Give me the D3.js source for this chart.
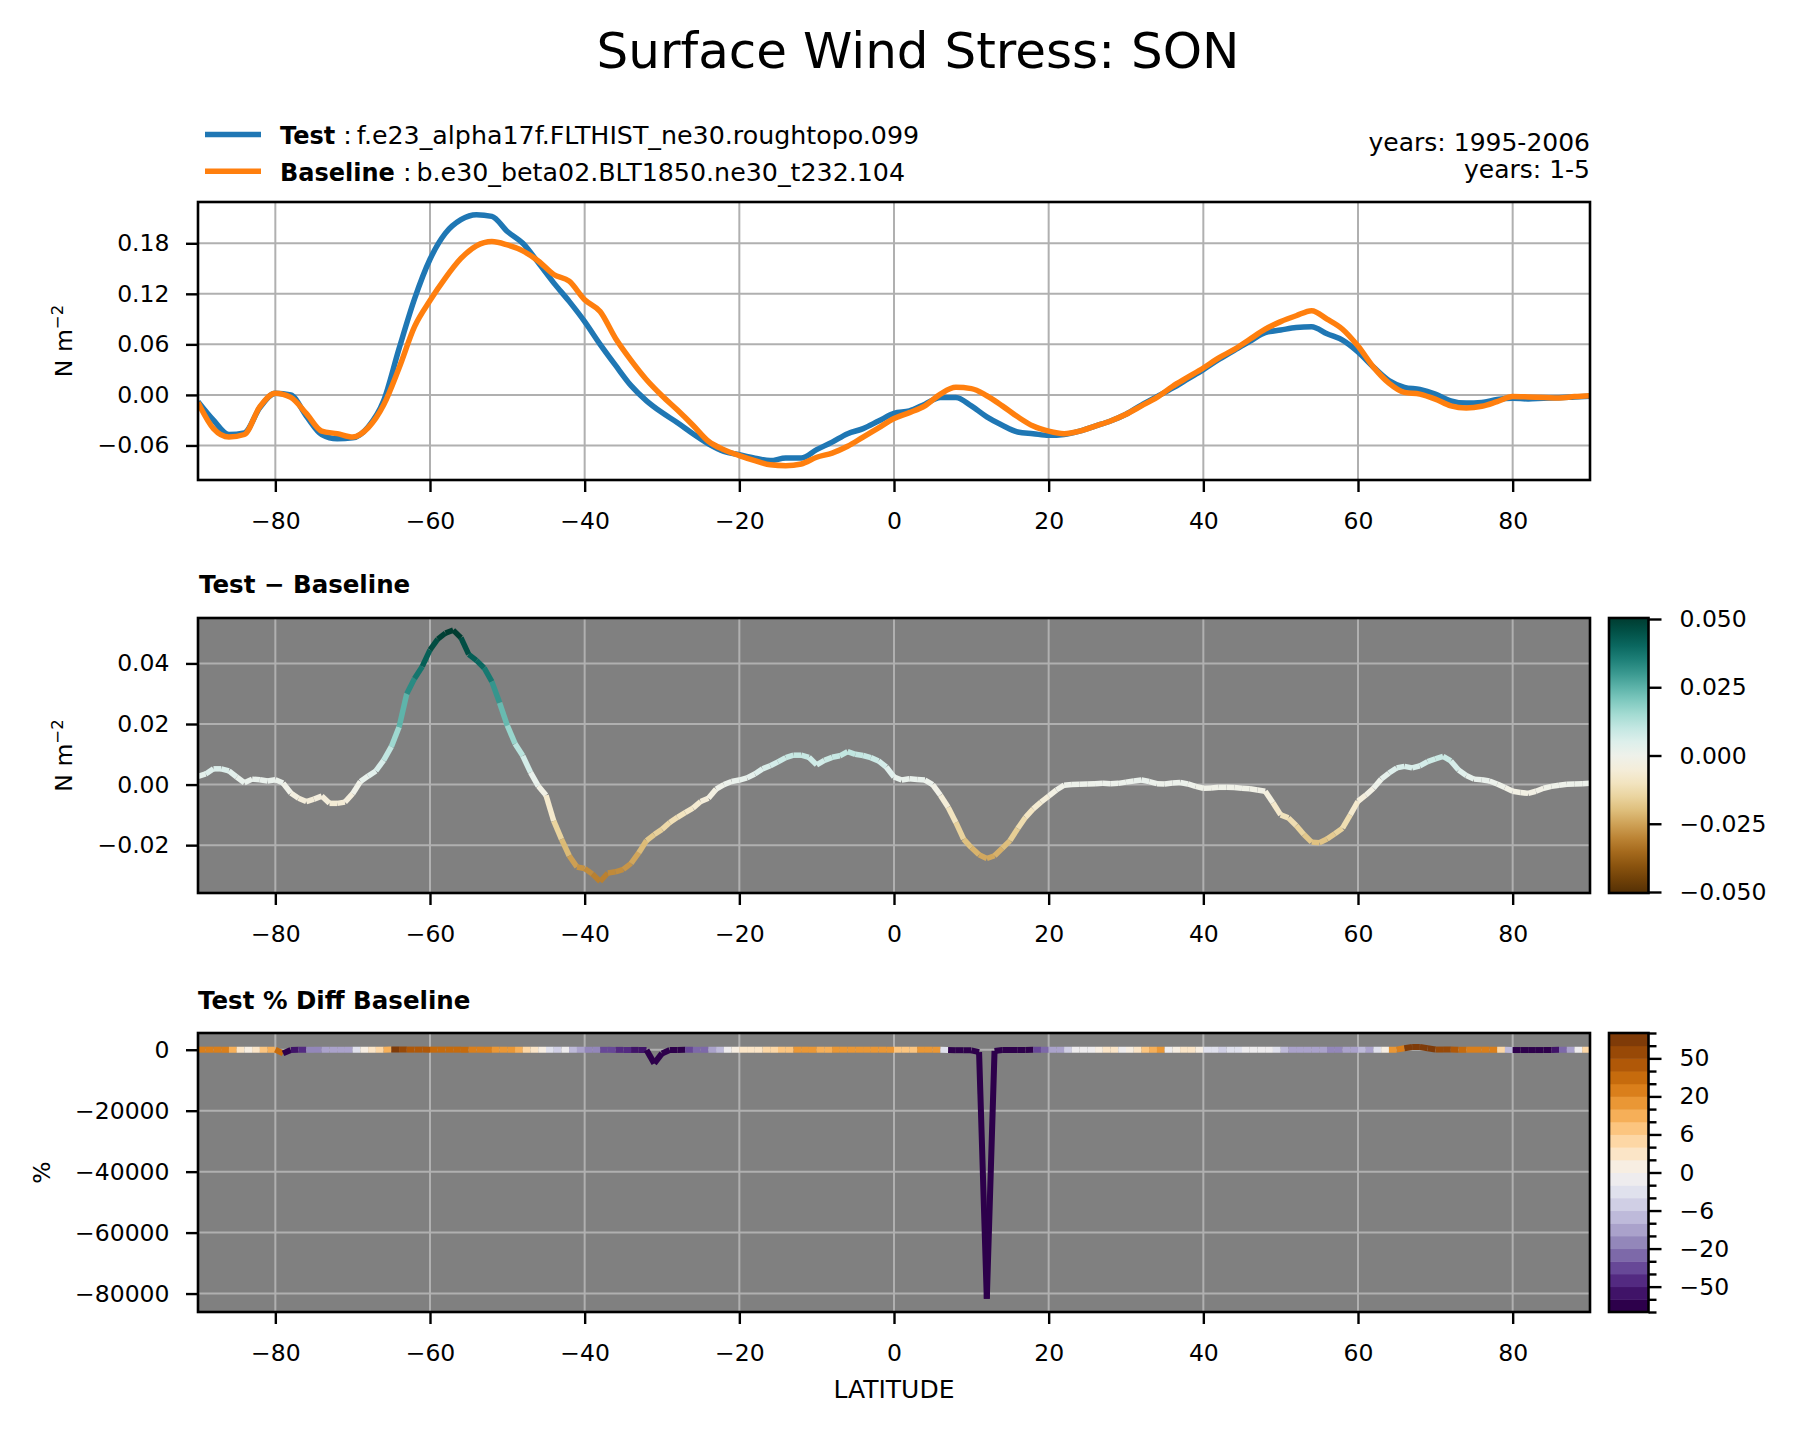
<!DOCTYPE html>
<html>
<head>
<meta charset="utf-8">
<script src="https://cdn.jsdelivr.net/npm/d3@7"></script>
<style>
  body { margin: 0; background: #fff; }
  svg text { font-family: "DejaVu Sans", sans-serif; fill: #000; }
</style>
</head>
<body>
<div id="my_dataviz"></div>
<script>
// ---- data ----
const latTop = d3.range(-90, 91, 2); // 2 degree grid for the two means

const testVals = [
  -0.008, -0.030, -0.047, -0.045, -0.015, 0.002, 0.000, -0.025, -0.047, -0.052,
  -0.051, -0.038, -0.007, 0.055, 0.114, 0.161, 0.192, 0.208, 0.214, 0.212,
  0.194, 0.180, 0.157, 0.133, 0.111, 0.087, 0.060, 0.035, 0.011, -0.007,
  -0.021, -0.033, -0.046, -0.058, -0.067, -0.071, -0.075, -0.078, -0.075, -0.075,
  -0.065, -0.056, -0.046, -0.040, -0.031, -0.022, -0.019, -0.011, -0.003, -0.003,
  -0.013, -0.026, -0.036, -0.044, -0.046, -0.048, -0.047, -0.043, -0.037, -0.031,
  -0.023, -0.012, -0.002, 0.008, 0.019, 0.030, 0.042, 0.053, 0.0635, 0.074,
  0.077, 0.080, 0.081, 0.0726, 0.065, 0.051, 0.033, 0.017, 0.009, 0.0065,
  0.001, -0.007, -0.0097, -0.009, -0.0055, -0.004, -0.0048, -0.004, -0.0035, -0.0025,
  -0.0016
];

const baseVals = [
  -0.009, -0.040, -0.050, -0.047, -0.014, 0.002, -0.003, -0.022, -0.043, -0.046,
  -0.050, -0.039, -0.012, 0.032, 0.081, 0.112, 0.139, 0.162, 0.177, 0.182,
  0.178, 0.171, 0.159, 0.143, 0.135, 0.113, 0.099, 0.067, 0.041, 0.018,
  -0.001, -0.018, -0.036, -0.055, -0.065, -0.072, -0.078, -0.083, -0.084, -0.082,
  -0.074, -0.069, -0.061, -0.050, -0.039, -0.028, -0.021, -0.013, 0.001, 0.009,
  0.0075, -0.001, -0.013, -0.026, -0.037, -0.043, -0.046, -0.043, -0.037, -0.031,
  -0.023, -0.013, -0.003, 0.010, 0.021, 0.032, 0.044, 0.054, 0.066, 0.078,
  0.087, 0.094, 0.100, 0.090, 0.078, 0.058, 0.033, 0.014, 0.003, 0.001,
  -0.005, -0.013, -0.0155, -0.0135, -0.008, -0.002, -0.0024, -0.003, -0.0036, -0.002,
  -0.001
];

const latDiff = d3.range(-90, 91, 1); // 1 degree grid for the differences

const diffVals = [
  0.0027, 0.0035, 0.0052, 0.0052, 0.0045, 0.0025, 0.0006, 0.0018, 0.0016, 0.0012,
  0.0016, 0.0005, -0.0028, -0.0045, -0.0056, -0.0048, -0.0038, -0.0062, -0.0062, -0.0058,
  -0.0030, 0.0010, 0.0028, 0.0045, 0.0080, 0.0125, 0.0190, 0.0300, 0.0350, 0.0390,
  0.0445, 0.0480, 0.0500, 0.0510, 0.0485, 0.0430, 0.0410, 0.0385, 0.0340, 0.0270,
  0.0195, 0.0135, 0.0095, 0.0040, -0.0005, -0.0035, -0.0120, -0.0180, -0.0235, -0.0272,
  -0.0277, -0.0295, -0.0320, -0.0292, -0.0288, -0.0280, -0.0260, -0.0225, -0.0185, -0.0165,
  -0.0148, -0.0125, -0.0108, -0.0093, -0.0078, -0.0056, -0.0045, -0.0015, 0.0000, 0.0010,
  0.0015, 0.0022, 0.0035, 0.0052, 0.0062, 0.0075, 0.0089, 0.0097, 0.0097, 0.0090,
  0.0065, 0.0080, 0.0090, 0.0095, 0.0109, 0.0100, 0.0096, 0.0089, 0.0078, 0.0058,
  0.0025, 0.0015, 0.0019, 0.0017, 0.0015, 0.0000, -0.0035, -0.0075, -0.0125, -0.0180,
  -0.0208, -0.0232, -0.0244, -0.0235, -0.0210, -0.0185, -0.0145, -0.0108, -0.0080, -0.0058,
  -0.0038, -0.0018, -0.0002, 0.0000, 0.0001, 0.0002, 0.0003, 0.0004, 0.0003, 0.0004,
  0.0008, 0.0012, 0.0015, 0.0010, 0.0003, 0.0002, 0.0005, 0.0007, 0.0002, -0.0006,
  -0.0012, -0.0011, -0.0009, -0.0009, -0.0010, -0.0012, -0.0014, -0.0018, -0.0022, -0.0060,
  -0.0100, -0.0110, -0.0135, -0.0165, -0.0190, -0.0192, -0.0180, -0.0162, -0.0144, -0.0100,
  -0.0055, -0.0035, -0.0012, 0.0018, 0.0038, 0.0055, 0.0060, 0.0055, 0.0062, 0.0076,
  0.0085, 0.0093, 0.0078, 0.0048, 0.0030, 0.0018, 0.0016, 0.0012, 0.0002, -0.0010,
  -0.0022, -0.0026, -0.0029, -0.0022, -0.0012, -0.0006, -0.0002, 0.0001, 0.0002, 0.0003,
  0.0004
];

const pctVals = [
  22, 22, 22, 22, 9, 3, 1, 3, 7, 9,
  35, -1200, -55, -45, -20, -20, -9, -9, -9, -9,
  -3, 1, 3, 5, 9, 80, 60, 45, 45, 45,
  35, 35, 35, 35, 35, 25, 25, 25, 15, 15,
  15, 9, 5, 3, 1, -3, -5, -1, -7, -9,
  -15, -15, -35, -35, -50, -50, -60, -60, -80, -4500,
  -1200, -80, -80, -35, -25, -25, -9, -7, -2, 1,
  3, 3, 3, 5, 5, 7, 7, 15, 15, 15,
  9, 9, 15, 15, 15, 15, 15, 15, 15, 15,
  6, 6, 6, 15, 15, 15, -3, -100, -150, -150,
  -200, -800, -81700, -400, -120, -100, -90, -80, -35, -22,
  -9, -9, -5, -1, -1, -1, 1, 2, 2, -1,
  1, 3, 7, 9, 15, -1, 1, 3, 3, 1,
  -3, -3, -5, -3, -3, -2, -2, -2, -2, -3,
  -7, -9, -9, -9, -9, -9, -15, -15, -9, -9,
  -7, -9, -3, 1, 15, 25, 500, 900, 900, 500,
  60, 60, 45, 35, 20, 20, 20, 20, 5, -7,
  -100, -100, -100, -100, -100, -60, -25, -9, -1, 5,
  1
];

const xTicks = [-80, -60, -40, -20, 0, 20, 40, 60, 80];
const topTicks = [-0.06, 0, 0.06, 0.12, 0.18];
const diffTicks = [-0.02, 0, 0.02, 0.04];
const pctTicks = [-80000, -60000, -40000, -20000, 0];
const diffCbTicks = [-0.05, -0.025, 0, 0.025, 0.05];
const pctLevels = [-100, -75, -50, -40, -30, -20, -10, -8, -6, -4, -2, 0, 2, 4, 6, 8, 10, 20, 30, 40, 50, 75, 100];
const pctCbLabels = [-50, -20, -6, 0, 6, 20, 50];

const legendItems = [
  { name: "Test", case: "f.e23_alpha17f.FLTHIST_ne30.roughtopo.099", years: "years: 1995-2006", color: "#1f77b4" },
  { name: "Baseline", case: "b.e30_beta02.BLT1850.ne30_t232.104", years: "years: 1-5", color: "#ff7f0e" }
];

// ---- layout ----
const W = 1799, H = 1433;
const axL = 198, axR = 1590;
const panels = {
  top: { y0: 202, y1: 480, ylim: [-0.101, 0.229] },
  mid: { y0: 618, y1: 893, ylim: [-0.0358, 0.055] },
  bot: { y0: 1033, y1: 1312, ylim: [-86050, 5490] }
};
const cbL = 1609, cbR = 1648.5;
const fs = 23.5;

const svg = d3.select("#my_dataviz")
  .append("svg")
  .attr("width", W)
  .attr("height", H)
  .style("display", "block");

const defs = svg.append("defs");

const x = d3.scaleLinear().domain([-90, 90]).range([axL, axR]);

// shared axis styling (matplotlib look)
function styleAxis(g) {
  g.select(".domain").remove();
  g.selectAll(".tick line").attr("stroke", "#000").attr("stroke-width", 2.4);
  g.selectAll(".tick text")
    .attr("font-size", fs)
    .attr("font-family", "DejaVu Sans")
    .attr("fill", "#000");
}

// draw one axes frame: background, grid, ticks; returns y scale and plot group
function drawPanel(key, yTicks, yFmt, bg) {
  const p = panels[key];
  const y = d3.scaleLinear().domain(p.ylim).range([p.y1, p.y0]);

  svg.append("rect")
    .attr("x", axL).attr("y", p.y0)
    .attr("width", axR - axL).attr("height", p.y1 - p.y0)
    .attr("fill", bg);

  // grid
  const grid = svg.append("g").attr("stroke", "#b0b0b0").attr("stroke-width", 2);
  grid.selectAll(".gx").data(xTicks).join("line")
    .attr("x1", d => x(d)).attr("x2", d => x(d))
    .attr("y1", p.y0).attr("y2", p.y1);
  grid.selectAll(".gy").data(yTicks).join("line")
    .attr("x1", axL).attr("x2", axR)
    .attr("y1", d => y(d)).attr("y2", d => y(d));

  svg.append("g")
    .attr("transform", `translate(0,${p.y1})`)
    .call(d3.axisBottom(x).tickValues(xTicks).tickFormat(d3.format("d"))
      .tickSize(12).tickPadding(20).tickSizeOuter(0))
    .call(styleAxis);

  svg.append("g")
    .attr("transform", `translate(${axL},0)`)
    .call(d3.axisLeft(y).tickValues(yTicks).tickFormat(yFmt)
      .tickSize(12).tickPadding(16.5).tickSizeOuter(0))
    .call(styleAxis);

  defs.append("clipPath").attr("id", "clip-" + key)
    .append("rect")
    .attr("x", axL).attr("y", p.y0)
    .attr("width", axR - axL).attr("height", p.y1 - p.y0);

  const plot = svg.append("g").attr("clip-path", `url(#clip-${key})`);
  return { y, plot, p };
}

function drawFrame(p) {
  svg.append("rect")
    .attr("x", axL).attr("y", p.y0)
    .attr("width", axR - axL).attr("height", p.y1 - p.y0)
    .attr("fill", "none").attr("stroke", "#000").attr("stroke-width", 2.6);
}

function yLabel(p, xPos, build) {
  const t = svg.append("text")
    .attr("transform", `translate(${xPos},${(p.y0 + p.y1) / 2}) rotate(-90)`)
    .attr("text-anchor", "middle")
    .attr("font-size", fs);
  build(t);
}

function nmLabel(t) {
  t.append("tspan").text("N m");
  t.append("tspan").attr("font-size", 16.5).attr("dy", -9).text("−2");
}

// ---- title ----
svg.append("text")
  .attr("x", 918).attr("y", 68)
  .attr("text-anchor", "middle")
  .attr("font-size", 50)
  .text("Surface Wind Stress: SON");

// ---- legend ----
legendItems.forEach((d, i) => {
  const ly = 134.5 + i * 36.8;
  svg.append("line")
    .attr("x1", 205).attr("x2", 261)
    .attr("y1", ly).attr("y2", ly)
    .attr("stroke", d.color).attr("stroke-width", 5.5);
  const t = svg.append("text")
    .attr("x", 280).attr("y", ly + 9.7)
    .attr("font-size", 25.3);
  t.append("tspan").attr("font-weight", "bold").attr("font-size", 24).text(d.name);
  t.append("tspan").text(" :\u2009" + d.case);

  svg.append("text")
    .attr("x", axR).attr("y", 150.5 + i * 27)
    .attr("text-anchor", "end")
    .attr("font-size", 25)
    .text(d.years);
});

// ---- panel 1: test and baseline ----
const meanAx = drawPanel("top", topTicks, d3.format(".2f"), "#fff");
const lineTop = d3.line()
  .x((d, i) => x(latTop[i]))
  .y(d => meanAx.y(d))
  .curve(d3.curveMonotoneX);

meanAx.plot.append("path")
  .datum(testVals)
  .attr("d", lineTop)
  .attr("fill", "none").attr("stroke", "#1f77b4")
  .attr("stroke-width", 5.5).attr("stroke-linejoin", "round");

meanAx.plot.append("path")
  .datum(baseVals)
  .attr("d", lineTop)
  .attr("fill", "none").attr("stroke", "#ff7f0e")
  .attr("stroke-width", 5.5).attr("stroke-linejoin", "round");

drawFrame(meanAx.p);
yLabel(meanAx.p, 72, nmLabel);

// ---- panel 2: test - baseline, coloured by value ----
const diffAx = drawPanel("mid", diffTicks, d3.format(".2f"), "#808080");
const diffColor = d3.scaleSequential(d3.interpolateBrBG).domain([-0.05, 0.05]).clamp(true);

const diffSegs = d3.pairs(diffVals.map((v, i) => [latDiff[i], v]));
diffAx.plot.selectAll(".seg")
  .data(diffSegs)
  .join("line")
  .attr("x1", d => x(d[0][0])).attr("y1", d => diffAx.y(d[0][1]))
  .attr("x2", d => x(d[1][0])).attr("y2", d => diffAx.y(d[1][1]))
  .attr("stroke", d => diffColor((d[0][1] + d[1][1]) / 2))
  .attr("stroke-width", 5.5)
  .attr("stroke-linecap", "butt");

drawFrame(diffAx.p);
yLabel(diffAx.p, 72, nmLabel);

svg.append("text")
  .attr("x", 199).attr("y", 593)
  .attr("font-size", 24.5).attr("font-weight", "bold")
  .text("Test − Baseline");

// colorbar for panel 2
const grad = defs.append("linearGradient")
  .attr("id", "brbg").attr("x1", 0).attr("x2", 0).attr("y1", 1).attr("y2", 0);
d3.range(0, 1.0001, 0.05).forEach(t => {
  grad.append("stop").attr("offset", t).attr("stop-color", d3.interpolateBrBG(t));
});
svg.append("rect")
  .attr("x", cbL).attr("y", diffAx.p.y0)
  .attr("width", cbR - cbL).attr("height", diffAx.p.y1 - diffAx.p.y0)
  .attr("fill", "url(#brbg)")
  .attr("stroke", "#000").attr("stroke-width", 2.6);

const cbY = d3.scaleLinear().domain([-0.05, 0.05]).range([diffAx.p.y1 - 1, diffAx.p.y0 + 1]);
svg.append("g")
  .attr("transform", `translate(${cbR},0)`)
  .call(d3.axisRight(cbY).tickValues(diffCbTicks).tickFormat(d3.format(".3f"))
    .tickSize(13).tickPadding(18).tickSizeOuter(0))
  .call(styleAxis);

// ---- panel 3: percent difference, binned colours ----
const pctAx = drawPanel("bot", pctTicks, d3.format("d"), "#808080");
const nBins = pctLevels.length - 1;
const binOf = v => Math.max(0, Math.min(nBins - 1, d3.bisectRight(pctLevels, v) - 1));
// purple for the lowest bin, brown for the highest
const binColor = i => d3.interpolatePuOr(i / (nBins - 1));

const pctSegs = d3.pairs(pctVals.map((v, i) => [latDiff[i], v]));
pctAx.plot.selectAll(".seg")
  .data(pctSegs)
  .join("line")
  .attr("x1", d => x(d[0][0])).attr("y1", d => pctAx.y(d[0][1]))
  .attr("x2", d => x(d[1][0])).attr("y2", d => pctAx.y(d[1][1]))
  .attr("stroke", d => binColor(binOf(d[0][1])))
  .attr("stroke-width", 6)
  .attr("stroke-linecap", "butt");

drawFrame(pctAx.p);
yLabel(pctAx.p, 49.5, t => t.text("%"));

svg.append("text")
  .attr("x", 198).attr("y", 1009)
  .attr("font-size", 24.5).attr("font-weight", "bold")
  .text("Test % Diff Baseline");

svg.append("text")
  .attr("x", (axL + axR) / 2).attr("y", 1398)
  .attr("text-anchor", "middle")
  .attr("font-size", 25)
  .text("LATITUDE");

// colorbar for panel 3
const cbIdx = d3.scaleLinear().domain([0, nBins]).range([pctAx.p.y1, pctAx.p.y0]);
svg.append("g").selectAll("rect")
  .data(d3.range(nBins))
  .join("rect")
  .attr("x", cbL).attr("width", cbR - cbL)
  .attr("y", i => cbIdx(i + 1)).attr("height", i => cbIdx(i) - cbIdx(i + 1) + 0.5)
  .attr("fill", i => binColor(i));
svg.append("rect")
  .attr("x", cbL).attr("y", pctAx.p.y0)
  .attr("width", cbR - cbL).attr("height", pctAx.p.y1 - pctAx.p.y0)
  .attr("fill", "none").attr("stroke", "#000").attr("stroke-width", 2.6);

const majorIdx = pctCbLabels.map(v => pctLevels.indexOf(v));
svg.append("g")
  .attr("transform", `translate(${cbR},0)`)
  .call(d3.axisRight(cbIdx).tickValues(d3.range(nBins + 1).filter(i => !majorIdx.includes(i)))
    .tickFormat("").tickSize(8).tickSizeOuter(0))
  .call(styleAxis);
svg.append("g")
  .attr("transform", `translate(${cbR},0)`)
  .call(d3.axisRight(cbIdx).tickValues(majorIdx).tickFormat(i => d3.format("d")(pctLevels[i]))
    .tickSize(13).tickPadding(18).tickSizeOuter(0))
  .call(styleAxis);
</script>
</body>
</html>
